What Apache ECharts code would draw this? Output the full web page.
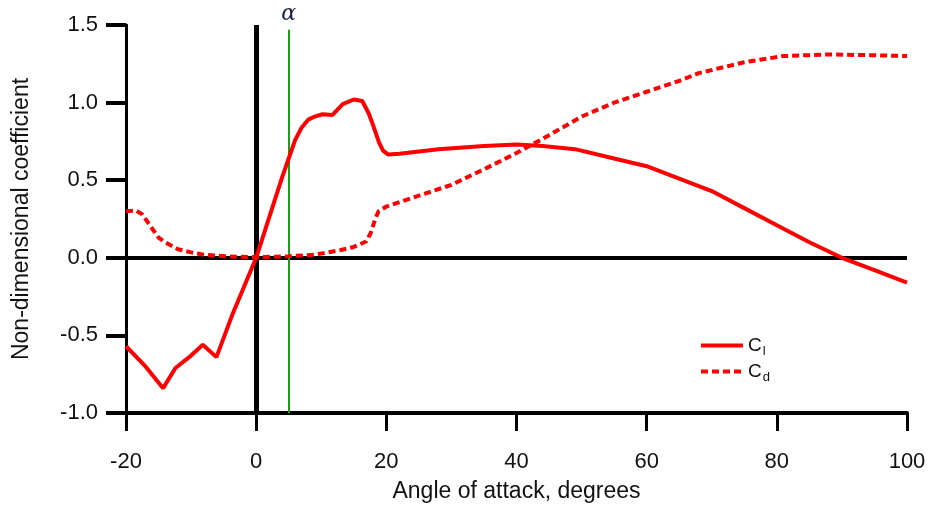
<!DOCTYPE html>
<html>
<head>
<meta charset="utf-8">
<script src="https://cdn.jsdelivr.net/npm/echarts@6/dist/echarts.min.js"></script>
<style>
html,body{margin:0;padding:0;background:#fff;}
#chart{width:929px;height:508px;}
</style>
</head>
<body>
<div id="chart"></div>
<script>
// Data
var xTicks = [-20, 0, 20, 40, 60, 80, 100];
var yTicks = [-1.0, -0.5, 0.0, 0.5, 1.0, 1.5];
var alphaAngle = 5;

var clAngles = [-20, -17, -14.3, -12.4, -10, -8.2, -6.1, -3.6, 0, 2, 4, 5, 6, 7, 8, 9, 10.2, 11.7, 13.3, 15, 16.3, 17.3, 18, 18.9, 19.5, 20.3, 22, 28, 35, 40, 44, 49, 55, 60, 65, 70, 75, 80, 85, 90, 95, 100];
var clValues = [-0.57, -0.70, -0.84, -0.71, -0.63, -0.56, -0.64, -0.36, 0.0, 0.26, 0.52, 0.64, 0.76, 0.84, 0.89, 0.91, 0.925, 0.92, 0.99, 1.02, 1.01, 0.93, 0.85, 0.74, 0.69, 0.665, 0.67, 0.70, 0.72, 0.73, 0.72, 0.70, 0.64, 0.59, 0.51, 0.43, 0.32, 0.21, 0.10, 0.0, -0.08, -0.16];

var cdAngles = [-20, -18.5, -17.5, -16, -15, -14, -12, -10, -8, -6, -3, 0, 3, 5, 7, 9, 11, 13, 15, 16.9, 17.6, 18.3, 18.8, 20, 25, 30, 35, 40, 45, 50, 55, 60, 65, 68, 72, 75, 81, 88, 95, 100];
var cdValues = [0.30, 0.305, 0.28, 0.19, 0.13, 0.10, 0.055, 0.035, 0.02, 0.013, 0.007, 0.005, 0.007, 0.01, 0.015, 0.02, 0.035, 0.05, 0.07, 0.105, 0.16, 0.25, 0.30, 0.33, 0.40, 0.47, 0.57, 0.675, 0.79, 0.91, 1.0, 1.07, 1.14, 1.19, 1.23, 1.26, 1.30, 1.31, 1.305, 1.30];

function pairs(xs, ys) { return xs.map(function (x, i) { return [x, ys[i]]; }); }

var chart = echarts.init(document.getElementById('chart'));
var FONT = 'Liberation Sans, Arial, sans-serif';
chart.setOption({
  animation: false,
  backgroundColor: '#fff',
  grid: { left: 126, right: 22, top: 25, bottom: 94, containLabel: false },
  xAxis: {
    type: 'value', min: xTicks[0], max: xTicks[xTicks.length - 1], interval: 20,
    name: 'Angle of attack, degrees', nameLocation: 'middle', nameGap: 67,
    nameTextStyle: { fontFamily: FONT, fontSize: 23, color: '#111' },
    axisLine: { onZero: false, lineStyle: { color: '#000', width: 4 } },
    axisTick: { length: 18, lineStyle: { color: '#000', width: 3 } },
    axisLabel: { margin: 38, fontFamily: FONT, fontSize: 22, color: '#111' },
    splitLine: { show: false }
  },
  yAxis: {
    type: 'value', min: yTicks[0], max: yTicks[yTicks.length - 1], interval: 0.5,
    name: 'Non-dimensional coefficient', nameLocation: 'middle', nameGap: 93,
    nameTextStyle: { fontFamily: FONT, fontSize: 23, color: '#111' },
    axisLine: { onZero: false, lineStyle: { color: '#000', width: 3 } },
    axisTick: { length: 20, lineStyle: { color: '#000', width: 4 } },
    axisLabel: { margin: 28, fontFamily: FONT, fontSize: 22, color: '#111',
      formatter: function (v) { return v.toFixed(1); } },
    splitLine: { show: false }
  },
  legend: {
    orient: 'vertical', left: 694, top: 331,
    itemWidth: 42, itemHeight: 14, itemGap: 4,
    data: ['Cl', 'Cd'],
    itemStyle: { opacity: 0 },
    lineStyle: { width: 4 },
    formatter: function (name) { return '{c|C}{s|' + name.slice(1) + '}'; },
    textStyle: {
      fontFamily: FONT, color: '#111',
      rich: {
        c: { fontSize: 19, fontFamily: FONT, color: '#111' },
        s: { fontSize: 13, fontFamily: FONT, color: '#111', padding: [12, 0, 0, 1] }
      }
    }
  },
  series: [
    {
      name: 'Cl', type: 'line', symbol: 'none', smooth: false,
      data: pairs(clAngles, clValues),
      lineStyle: { color: '#ff0000', width: 4 }, itemStyle: { color: '#ff0000' },
      z: 5,
      markLine: {
        silent: true, symbol: 'none', animation: false, z: 1,
        data: [
          [{ coord: [0, yTicks[yTicks.length - 1]], lineStyle: { color: '#000', width: 5, type: 'solid' } },
           { coord: [0, yTicks[0]] }],
          [{ coord: [xTicks[0], 0], lineStyle: { color: '#000', width: 4, type: 'solid' } },
           { coord: [xTicks[xTicks.length - 1], 0] }],
          [{ coord: [alphaAngle, yTicks[0]], lineStyle: { color: '#1f9a1f', width: 2, type: 'solid' },
             label: { show: true, position: 'end', formatter: 'α', distance: 4,
               fontFamily: 'DejaVu Serif, serif', fontStyle: 'italic', fontSize: 22, color: '#1b2440' } },
           { coord: [alphaAngle, 1.47] }]
        ],
        label: { show: false }
      }
    },
    {
      name: 'Cd', type: 'line', symbol: 'none', smooth: false,
      data: pairs(cdAngles, cdValues),
      lineStyle: { color: '#ff0000', width: 4, type: [7, 4] }, itemStyle: { color: '#ff0000' },
      z: 5
    }
  ]
});
</script>
</body>
</html>
